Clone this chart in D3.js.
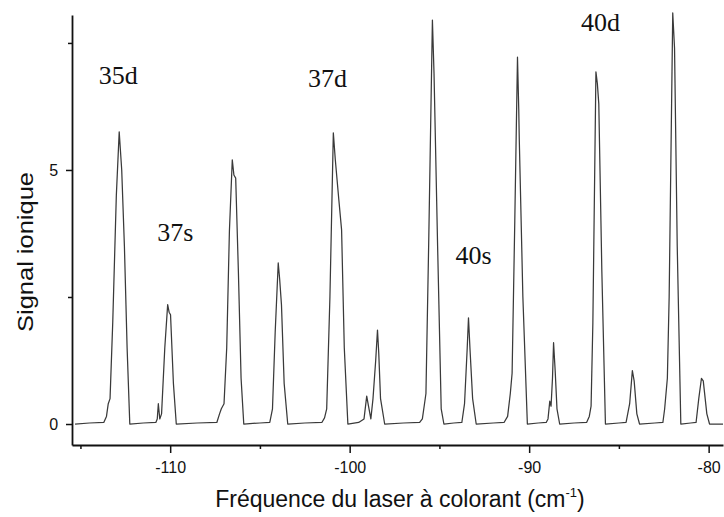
<!DOCTYPE html>
<html>
<head>
<meta charset="utf-8">
<script src="https://cdn.jsdelivr.net/npm/d3@7"></script>
<style>
  body { margin: 0; background: #fff; }
  svg { display: block; }
</style>
</head>
<body>
<svg id="chart" width="724" height="517"></svg>
<script>
// ---- data ----
const freq = [
  -115.3, -114.5, -113.7, -113.55, -113.45, -113.35, -113.2, -113.0, -112.84, -112.7, -112.55, -112.4, -112.25,
  -111.5, -110.8, -110.72, -110.66, -110.58, -110.48, -110.3, -110.14, -110.06, -109.98, -109.82, -109.66,
  -108.5, -107.4, -107.25, -107.15, -107.0, -106.85, -106.7, -106.54, -106.45, -106.35, -106.2, -106.05, -105.9,
  -105.0, -104.45, -104.3, -104.15, -103.98, -103.9, -103.8, -103.65, -103.45,
  -102.5, -101.55, -101.4, -101.28, -101.1, -100.91, -100.8, -100.6, -100.45, -100.3, -100.1,
  -99.5, -99.2, -99.05, -98.95, -98.82, -98.7, -98.55, -98.45, -98.38, -98.28, -98.05,
  -97.0, -96.1, -95.95, -95.85, -95.75, -95.6, -95.39, -95.3, -95.1, -94.9, -94.75,
  -94.2, -93.75, -93.6, -93.45, -93.38, -93.3, -93.15, -92.95,
  -92.0, -91.4, -91.2, -91.05, -90.95, -90.8, -90.65, -90.58, -90.55, -90.35, -90.1,
  -89.5, -89.05, -88.95, -88.85, -88.78, -88.7, -88.64, -88.55, -88.45, -88.3,
  -87.5, -86.8, -86.65, -86.55, -86.45, -86.28, -86.2, -86.12, -85.95, -85.75,
  -85.0, -84.6, -84.4, -84.25, -84.15, -84.0, -83.85,
  -83.0, -82.55, -82.45, -82.3, -82.2, -82.0, -81.9, -81.75, -81.55,
  -81.0, -80.7, -80.55, -80.4, -80.3, -80.1, -79.95, -79.2
];
const signal = [
  0.0, 0.02, 0.03, 0.15, 0.4, 0.5, 2.0, 4.5, 5.75, 5.0, 3.5, 1.5, 0.0,
  0.02, 0.03, 0.1, 0.4, 0.1, 0.2, 1.5, 2.35, 2.2, 2.15, 0.8, 0.0,
  0.02, 0.03, 0.2, 0.3, 0.4, 1.5, 3.8, 5.2, 4.9, 4.84, 3.0, 0.9, 0.0,
  0.02, 0.03, 0.3, 1.8, 3.17, 2.85, 2.35, 0.8, 0.0,
  0.02, 0.03, 0.12, 0.3, 2.5, 5.73, 5.2, 4.4, 3.82, 1.5, 0.0,
  0.03, 0.1, 0.55, 0.35, 0.1, 0.5, 1.25, 1.85, 1.4, 0.5, 0.0,
  0.02, 0.03, 0.1, 0.35, 0.6, 3.5, 7.95, 6.9, 3.5, 0.3, 0.0,
  0.02, 0.03, 0.4, 1.5, 2.09, 1.5, 0.5, 0.0,
  0.02, 0.03, 0.15, 0.6, 1.0, 4.0, 7.22, 6.2, 5.6, 2.5, 0.0,
  0.02, 0.03, 0.1, 0.45, 0.35, 0.9, 1.6, 1.05, 0.3, 0.0,
  0.02, 0.03, 0.15, 0.35, 2.0, 6.93, 6.7, 6.3, 3.0, 0.0,
  0.02, 0.03, 0.4, 1.05, 0.85, 0.2, 0.0,
  0.02, 0.03, 0.3, 0.9, 2.5, 8.09, 7.4, 3.5, 0.0,
  0.02, 0.03, 0.5, 0.9, 0.85, 0.2, 0.0, 0.0
];
const xMajorTicks = [-110, -100, -90, -80];
const xMinorTicks = [-115, -105, -95, -85];
const yMajorTicks = [0, 5];
const yMinorTicks = [2.5, 7.5];
const peakLabels = ["35d", "37s", "37d", "40s", "40d"];
const peakLabelFreq = [-112.9, -109.72, -101.24, -93.1, -86.02];
const peakLabelSignal = [6.87, 3.78, 6.81, 3.33, 7.92];

// ---- chart ----
const svg = d3.select("#chart");
const x = d3.scaleLinear().domain([-115.47, -79.2]).range([72, 723]);
const y = d3.scaleLinear().domain([-0.413, 8.05]).range([445, 15]);

const pts = freq.map((f, i) => [f, signal[i]]);
svg.append("path")
  .datum(pts)
  .attr("fill", "none")
  .attr("stroke", "#3a3a3a")
  .attr("stroke-width", 1.25)
  .attr("stroke-linejoin", "round")
  .attr("d", d3.line().x(d => x(d[0])).y(d => y(d[1])));

// x axis
const gx = svg.append("g").attr("transform", `translate(0,${y.range()[0]})`);
gx.call(d3.axisBottom(x).tickValues(xMajorTicks).tickSize(8).tickSizeOuter(0)
  .tickFormat(d => String(d)));
const gxm = svg.append("g").attr("transform", `translate(0,${y.range()[0]})`);
gxm.call(d3.axisBottom(x).tickValues(xMinorTicks).tickSize(4).tickSizeOuter(0).tickFormat(""));
gxm.select(".domain").remove();

// y axis
const gy = svg.append("g").attr("transform", `translate(${x.range()[0]},0)`);
gy.call(d3.axisLeft(y).tickValues(yMajorTicks).tickSize(6).tickSizeOuter(0)
  .tickFormat(d => String(d)));
const gym = svg.append("g").attr("transform", `translate(${x.range()[0]},0)`);
gym.call(d3.axisLeft(y).tickValues(yMinorTicks).tickSize(4).tickSizeOuter(0).tickFormat(""));
gym.select(".domain").remove();

svg.selectAll(".domain").attr("stroke", "#111").attr("stroke-width", 1.8);
svg.selectAll(".tick line").attr("stroke", "#111").attr("stroke-width", 1.5);
svg.selectAll(".tick text")
  .attr("font-family", "'Liberation Sans', Arial, sans-serif")
  .attr("font-size", 16)
  .attr("fill", "#111");
gx.selectAll(".tick text").attr("dy", "1.06em");
gy.selectAll(".tick text").attr("dx", "-0.3em");

// peak labels
svg.append("g").selectAll("text")
  .data(peakLabels)
  .join("text")
  .attr("x", (d, i) => x(peakLabelFreq[i]))
  .attr("y", (d, i) => y(peakLabelSignal[i]))
  .attr("dy", "0.35em")
  .attr("text-anchor", "middle")
  .attr("font-family", "'Liberation Serif', 'Times New Roman', serif")
  .attr("font-size", 26)
  .attr("fill", "#111")
  .text(d => d);

// axis titles
const xt = svg.append("text")
  .attr("x", 400).attr("y", 507)
  .attr("text-anchor", "middle")
  .attr("font-family", "'Liberation Sans', Arial, sans-serif")
  .attr("font-size", 23)
  .attr("fill", "#111");
xt.append("tspan").text("Fréquence du laser à colorant (cm");
xt.append("tspan").attr("font-size", 13).attr("dy", -10).text("-1");
xt.append("tspan").attr("dy", 10).text(")");

svg.append("text")
  .attr("transform", "translate(33,252) rotate(-90)")
  .attr("text-anchor", "middle")
  .attr("font-family", "'Liberation Sans', Arial, sans-serif")
  .attr("font-size", 22)
  .attr("textLength", 160)
  .attr("lengthAdjust", "spacingAndGlyphs")
  .attr("fill", "#111")
  .text("Signal ionique");
</script>
</body>
</html>
